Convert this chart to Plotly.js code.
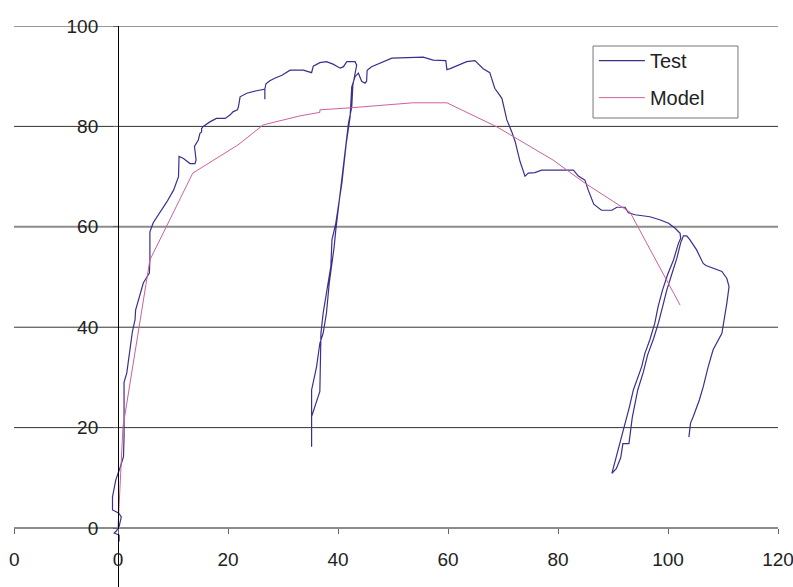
<!DOCTYPE html>
<html>
<head>
<meta charset="utf-8">
<script src="https://cdn.plot.ly/plotly-3.0.1.min.js"></script>
<style>
html,body{margin:0;padding:0;overflow:hidden;background:#fff;}
#chart{width:793px;height:587px;}
</style>
</head>
<body>
<div id="chart"></div>
<script>
// Test series (x, y)
const testX = [0.2,0.2,-0.7,-0.3,0.2,0.6,0.1,-1.0,-1.0,-0.4,0.4,1.0,1.1,1.1,1.6,1.9,2.2,2.6,3.1,3.2,4.6,5.7,5.8,5.8,6.4,7.6,8.9,10.1,11.0,11.1,11.9,13.1,14.0,14.2,13.9,14.6,14.9,15.2,15.2,15.5,16.7,17.9,19.5,20.4,20.9,21.7,21.9,22.2,23.4,25.2,26.7,26.7,26.7,26.9,27.6,28.5,29.8,31.3,33.7,35.2,35.5,36.7,37.9,39.1,40.4,41.0,41.6,43.1,43.4,
  42.7,42.5,41.9,41.3,40.4,39.6,39.3,38.8,38.4,37.9,37.3,36.7,36.1,35.2,35.2,
  35.2,36.7,36.9,37.3,37.9,38.7,38.9,39.6,40.7,41.5,42.2,42.5,43.1,43.7,
  44.3,44.9,45.2,45.3,46.1,48.2,49.8,55.5,57.3,59.6,59.8,60.4,61.6,62.8,63.4,64.9,65.5,66.4,67.6,68.5,69.8,70.7,71.6,72.2,73.1,74.0,74.6,75.8,77.0,82.8,83.7,84.9,85.5,86.5,87.9,89.8,90.7,92.2,92.8,94.0,96.7,98.5,100.1,101.3,102.2,
  102.3,101.9,101.0,99.9,99.0,98.2,97.6,96.7,95.8,95.2,94.6,93.7,93.0,92.2,91.6,91.2,90.4,89.8,
  90.6,91.4,91.8,92.9,93.5,94.5,95.5,96.3,97.4,98.3,99.0,99.8,100.7,101.6,102.3,102.8,
  103.4,104.0,105.2,106.4,106.9,108.2,109.8,110.7,111.1,110.7,110.2,109.8,108.2,107.3,106.4,105.7,104.6,104.1,103.8];
const testY = [-2.7,-1.4,-1.0,-0.6,0.3,2.2,3.0,3.6,6.2,9.6,12.1,14.2,18.2,29.0,30.9,33.5,36.5,39.0,41.5,43.4,48.8,50.8,53.4,59.0,60.8,62.7,65.0,67.3,70.0,74.0,73.6,72.6,72.6,73.3,76.0,77.3,78.6,78.9,79.6,80.0,80.9,81.6,81.6,82.3,82.9,83.3,83.9,85.9,86.6,87.1,87.4,85.4,87.4,88.5,89.1,89.6,90.2,91.2,91.2,90.7,92.0,92.7,92.9,92.4,91.6,91.9,92.9,92.9,92.2,
  88.2,83.9,80.6,75.3,66.7,59.4,56.0,51.4,48.7,42.8,38.8,36.8,32.1,27.5,16.2,
  22.2,27.2,38.8,42.8,46.8,52.1,57.4,60.7,68.7,76.6,81.9,87.9,89.9,90.6,
  89.0,88.6,89.0,91.2,91.9,92.9,93.6,93.8,93.2,93.1,91.3,91.5,92.0,92.5,92.9,93.1,92.4,91.5,90.7,87.6,85.6,81.3,78.9,77.0,73.0,70.1,70.7,70.8,71.3,71.3,70.1,69.3,67.3,64.5,63.3,63.3,63.9,63.9,62.8,62.4,62.0,61.4,60.7,59.7,58.7,
  57.7,56.7,53.4,50.4,47.4,44.1,40.8,37.5,34.8,32.1,30.1,27.5,24.2,20.9,18.2,16.5,13.5,10.9,
  11.8,14.0,16.8,16.8,22.0,27.5,31.0,34.5,37.8,41.0,44.0,47.5,50.6,53.7,56.8,58.2,
  58.2,57.4,55.4,52.7,52.3,51.7,51.1,49.7,48.1,44.8,41.4,38.8,35.5,32.1,28.1,25.5,22.2,20.9,18.1];

// Model series
const modelX = [0,0.9,5.8,13.6,21.8,26.4,33.1,36.7,36.7,42.2,53.6,59.8,68.9,79.1,84.9,93.1,102.2];
const modelY = [0,20.1,53.4,70.7,76.3,80.3,82.1,82.8,83.3,83.7,84.7,84.7,79.9,73.3,68.7,62.9,44.4];

// Axis ticks
const xTickVals = [-18.85,0,20,40,60,80,100,120];
const xTickText = ['0','0','20','40','60','80','100','120'];
const yTickVals = [0,20,40,60,80,100];

const seriesNames = ['Test','Model'];
const X_MIN = -18.91, X_MAX = 120, Y_MIN = -11.75, Y_MAX = 100;

const FONT = 'Liberation Sans, Arial, sans-serif';

const traces = [
  {x: testX, y: testY, type: 'scatter', mode: 'lines', name: seriesNames[0],
   legendgroup: 'a', line: {color: '#3b2f8e', width: 1.2}},
  {x: modelX, y: modelY, type: 'scatter', mode: 'lines', name: seriesNames[1],
   legendgroup: 'b', line: {color: '#cf5f9d', width: 1}}
];

// horizontal gridlines at the y ticks (the 60 line is lighter and thicker, as in the picture)
const gridShapes = yTickVals.filter(v => v !== 0).map(v => ({
  type: 'line', xref: 'paper', x0: 0, x1: 1, yref: 'y', y0: v, y1: v, layer: 'below',
  line: v === 60 ? {color: '#8c8c8c', width: 2} : {color: '#333', width: 1}
}));

const layout = {
  width: 793, height: 587,
  margin: {l: 14, r: 15, t: 26, b: 0, pad: 0},
  paper_bgcolor: '#fff', plot_bgcolor: '#fff',
  font: {family: FONT, size: 19, color: '#222'},
  showlegend: true,
  legend: {x: 0.759, y: 0.973, xanchor: 'left', yanchor: 'top',
           bgcolor: 'rgba(0,0,0,0)', borderwidth: 0, itemwidth: 46,
           tracegroupgap: 8, font: {family: FONT, size: 20, color: '#222'}},
  xaxis: {range: [X_MIN, X_MAX], anchor: 'free', position: (0 - Y_MIN) / (Y_MAX - Y_MIN),
          showgrid: false, zeroline: false, showline: true, linecolor: '#8c8c8c', linewidth: 2,
          tickmode: 'array', tickvals: xTickVals, ticktext: xTickText,
          ticks: 'outside', ticklen: 5, tickcolor: '#666', tickwidth: 1,
          ticklabeloverflow: 'allow',
          ticklabelstandoff: 9, tickfont: {family: FONT, size: 19, color: '#222'}},
  yaxis: {range: [Y_MIN, Y_MAX], anchor: 'free', position: (0 - X_MIN) / (X_MAX - X_MIN),
          showgrid: false, zeroline: false,
          showline: true, linecolor: '#000', linewidth: 1,
          tickmode: 'array', tickvals: yTickVals,
          ticks: 'outside', ticklen: 5, tickcolor: '#666', tickwidth: 1,
          ticklabeloverflow: 'allow',
          ticklabelstandoff: 11, tickfont: {family: FONT, size: 19, color: '#222'}},
  shapes: gridShapes.concat([
    {type: 'rect', xref: 'paper', yref: 'paper', x0: 0.7579, x1: 0.9476, y0: 0.836, y1: 0.9643,
     line: {color: '#777', width: 1}, fillcolor: '#fff', layer: 'below'}
  ])
};

Plotly.newPlot('chart', traces, layout, {staticPlot: true, displayModeBar: false});
</script>
</body>
</html>
